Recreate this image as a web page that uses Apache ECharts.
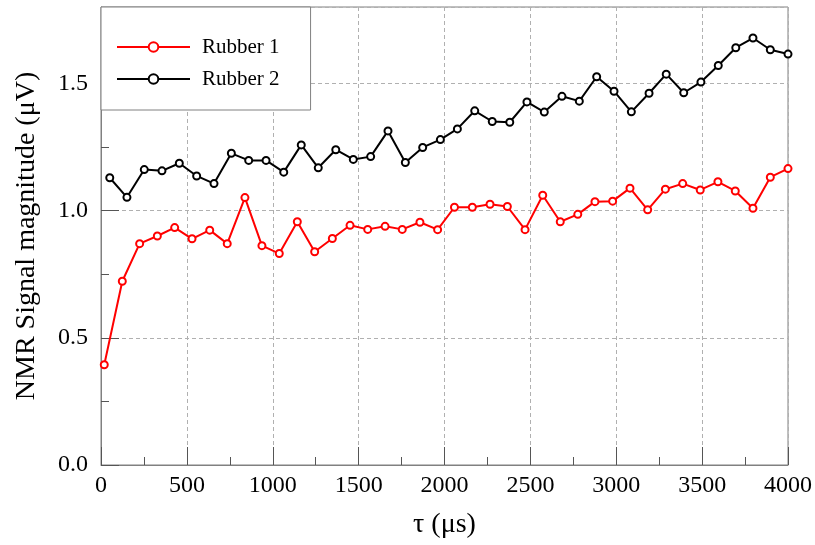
<!DOCTYPE html>
<html>
<head>
<meta charset="utf-8">
<script src="https://cdn.jsdelivr.net/npm/echarts@6/dist/echarts.min.js"></script>
<style>html,body{margin:0;padding:0;background:#fff}#c{width:815px;height:545px}</style>
</head>
<body>
<div id="c"></div>
<script>
const seriesNames = ['Rubber 1', 'Rubber 2'];
const rubber1X = [19,124,225,328,429,530,633,735,838,937,1038,1143,1244,1347,1450,1553,1654,1754,1857,1960,2058,2162,2265,2366,2469,2572,2674,2776,2876,2979,3080,3183,3286,3387,3489,3592,3693,3796,3897,4000];
const rubber1Y = [0.394,0.722,0.870,0.900,0.933,0.889,0.923,0.870,1.051,0.862,0.831,0.956,0.838,0.890,0.942,0.926,0.938,0.926,0.954,0.925,1.013,1.013,1.025,1.016,0.925,1.060,0.956,0.985,1.035,1.037,1.088,1.003,1.084,1.106,1.081,1.113,1.077,1.009,1.131,1.165];
const rubber2X = [51,151,252,355,456,557,658,759,860,961,1064,1166,1265,1367,1469,1570,1671,1772,1873,1976,2075,2176,2278,2380,2480,2581,2684,2785,2886,2987,3088,3191,3291,3393,3493,3594,3696,3796,3897,4000];
const rubber2Y = [1.129,1.052,1.161,1.156,1.186,1.136,1.106,1.225,1.197,1.197,1.151,1.258,1.168,1.239,1.201,1.212,1.313,1.189,1.248,1.279,1.321,1.392,1.350,1.347,1.427,1.387,1.449,1.430,1.526,1.469,1.388,1.461,1.536,1.463,1.505,1.570,1.640,1.678,1.632,1.615];
const xTicks = [0,500,1000,1500,2000,2500,3000,3500,4000];
const yTicks = [0.0,0.5,1.0,1.5];
const xTitle = 'τ (μs)';
const yTitle = 'NMR Signal magnitude (μV)';

const FONT = "'Liberation Serif','Times New Roman',serif";
const pair = (xs, ys) => xs.map((x, i) => [x, ys[i]]);

const chart = echarts.init(document.getElementById('c'), null, {renderer: 'canvas'});
const axisCommon = {
  axisLine: {show: true, lineStyle: {color: '#808080', width: 1}},
  axisTick: {show: true, inside: true, length: 18, lineStyle: {color: '#555', width: 1}},
  minorTick: {show: true, splitNumber: 2, length: 8, lineStyle: {color: '#555', width: 1}},
  splitLine: {show: true, lineStyle: {color: '#b0b0b0', type: [4, 3], width: 1}},
  nameTextStyle: {fontFamily: FONT, fontSize: 28, color: '#000'}
};
chart.setOption({
  animation: false,
  backgroundColor: '#fff',
  grid: {left: 101, right: 27, top: 7, bottom: 80, containLabel: false, outerBoundsMode: 'none',
         show: true, borderColor: '#808080', borderWidth: 1, backgroundColor: 'transparent'},
  legend: {
    data: seriesNames,
    orient: 'vertical',
    left: 101, top: 7,
    width: 208,
    padding: [29, 31, 20, 15],
    itemWidth: 73, itemHeight: 12, itemGap: 10,
    backgroundColor: '#fff', borderColor: '#808080', borderWidth: 1, borderRadius: 0,
    textStyle: {fontFamily: FONT, fontSize: 21, color: '#000', lineHeight: 22, padding: [0, 0, 0, 7]}
  },
  xAxis: Object.assign({}, axisCommon, {
    type: 'value', min: 0, max: 4000, interval: 500,
    name: xTitle, nameLocation: 'middle', nameGap: 46,
    axisLabel: {fontFamily: FONT, fontSize: 24, color: '#000', margin: 9,
      formatter: v => xTicks.includes(v) ? String(v) : ''}
  }),
  yAxis: Object.assign({}, axisCommon, {
    type: 'value', min: 0, max: 1.8, interval: 0.5,
    name: yTitle, nameLocation: 'middle', nameGap: 60, nameRotate: 90,
    axisLabel: {fontFamily: FONT, fontSize: 24, color: '#000', margin: 13,
      formatter: v => yTicks.some(t => Math.abs(t - v) < 1e-9) ? v.toFixed(1) : ''}
  }),
  series: [
    {name: seriesNames[0], type: 'line', data: pair(rubber1X, rubber1Y),
     symbol: 'emptyCircle', symbolSize: 7, color: '#ff0000',
     lineStyle: {color: '#ff0000', width: 2}, itemStyle: {color: '#ff0000', borderWidth: 1.6}, z: 3},
    {name: seriesNames[1], type: 'line', data: pair(rubber2X, rubber2Y),
     symbol: 'emptyCircle', symbolSize: 7, color: '#000000',
     lineStyle: {color: '#000000', width: 2}, itemStyle: {color: '#000000', borderWidth: 1.6}, z: 3}
  ]
});
</script>
</body>
</html>
